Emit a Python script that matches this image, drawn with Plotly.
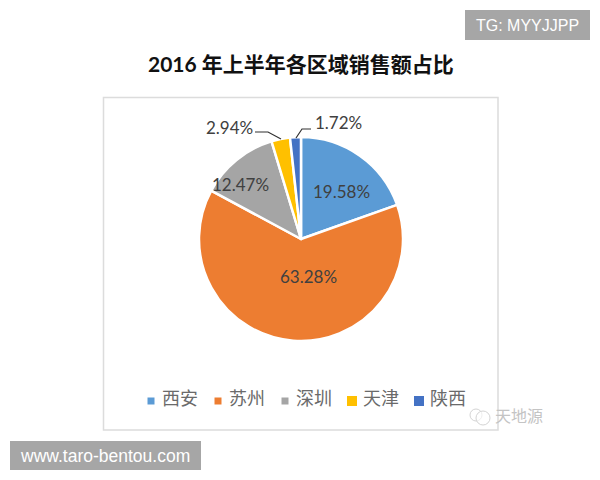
import plotly.graph_objects as go

regions = ["西安", "苏州", "深圳", "天津", "陕西"]
shares = [19.58, 63.28, 12.47, 2.94, 1.72]
colors = ["#5b9bd5", "#ed7d31", "#a5a5a5", "#ffc000", "#4472c4"]
title_text = "2016 年上半年各区域销售额占比"

W, H = 600, 480
CJK = "Noto Sans CJK SC"
LATIN = "Lato"


def px(x):
    return x / W


def py(y):
    return 1 - y / H


fig = go.Figure(
    go.Pie(
        labels=regions,
        values=shares,
        sort=False,
        direction="clockwise",
        rotation=0,
        marker=dict(colors=colors, line=dict(color="white", width=2.5)),
        textinfo="none",
        hoverinfo="label+percent",
        domain=dict(x=[px(199), px(403)], y=[py(341), py(137)]),
    )
)

shapes = [
    # chart frame
    dict(type="rect", xref="paper", yref="paper", x0=px(103.5), x1=px(498), y0=py(430), y1=py(97.5),
         line=dict(color="#dcdcdc", width=1.5), fillcolor="rgba(0,0,0,0)", layer="below"),
    # corner badges
    dict(type="rect", xref="paper", yref="paper", x0=px(465), x1=px(590), y0=py(40), y1=py(10),
         line=dict(width=0), fillcolor="#a6a6a6"),
    dict(type="rect", xref="paper", yref="paper", x0=px(10), x1=px(201), y0=py(470), y1=py(441),
         line=dict(width=0), fillcolor="#a6a6a6"),
    # leader lines for the two narrow slices
    dict(type="path", xref="paper", yref="paper",
         path=f"M {px(255)} {py(132)} L {px(268)} {py(132)} L {px(281)} {py(139)}",
         line=dict(color="#303030", width=1.2)),
    dict(type="path", xref="paper", yref="paper",
         path=f"M {px(311)} {py(129)} L {px(302)} {py(129)} L {px(296)} {py(138)}",
         line=dict(color="#303030", width=1.2)),
    # message-bubble mark beside the source name
    dict(type="circle", xref="paper", yref="paper", x0=px(470), x1=px(482), y0=py(421), y1=py(409),
         line=dict(color="#d4d4d4", width=1), fillcolor="rgba(255,255,255,0.6)"),
    dict(type="circle", xref="paper", yref="paper", x0=px(476), x1=px(490), y0=py(425), y1=py(411),
         line=dict(color="#d4d4d4", width=1), fillcolor="rgba(255,255,255,0.6)"),
]


def note(x, y, text, size=17, color="#404040", family=LATIN, anchor="center"):
    return dict(xref="paper", yref="paper", x=px(x), y=py(y), text=text, showarrow=False,
                xanchor=anchor, yanchor="middle", font=dict(size=size, color=color, family=family))


label_centres = [(342, 191), (308, 276), (240, 184), (229, 128), (338, 123)]
annotations = [note(x, y, f"{v:.2f}%") for (x, y), v in zip(label_centres, shares)]

# Key below the pie: one swatch and name per region
swatch_sizes = [7, 7, 7, 10, 10]
for i, (name, colour, size) in enumerate(zip(regions, colors, swatch_sizes)):
    cx = 151 + i * 67
    shapes.append(dict(type="rect", xref="paper", yref="paper",
                       x0=px(cx - size / 2), x1=px(cx + size / 2),
                       y0=py(401 + size / 2), y1=py(401 - size / 2),
                       line=dict(width=0), fillcolor=colour))
    annotations.append(note(cx + 9, 397, name, size=18, color="#6a6a6a", family=CJK, anchor="left"))

annotations += [
    note(301, 64, "<b>" + title_text + "</b>", size=21, color="#111111", family=f"{LATIN}, {CJK}"),
    note(527.5, 25, "TG: MYYJJPP", size=16, color="white", family="Liberation Sans"),
    note(105, 455.5, "www.taro-bentou.com", size=17.5, color="white", family="Liberation Sans"),
    note(519, 415, "天地源", size=16, color="#c4c4c4", family=CJK),
]

fig.update_layout(
    width=W,
    height=H,
    margin=dict(l=0, r=0, t=0, b=0),
    paper_bgcolor="white",
    shapes=shapes,
    annotations=annotations,
    showlegend=False,
)

fig.write_html("out.html")
